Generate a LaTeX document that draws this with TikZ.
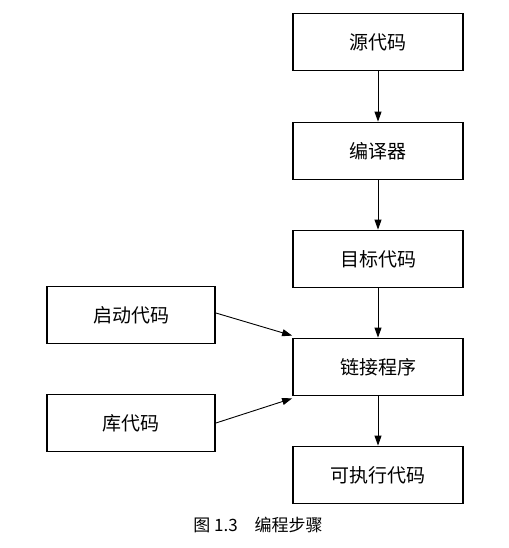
\documentclass[tikz,border=0pt]{standalone}
\usepackage{fontspec}
\newfontfamily\cjk{Noto Sans CJK SC}
\usetikzlibrary{arrows.meta}
\begin{document}
\begin{tikzpicture}[x=1pt,y=-1pt,
  box/.style={draw, line width=1.8pt, minimum width=170pt, minimum height=57pt, inner sep=0pt, font=\cjk\fontsize{19}{21}\selectfont},
  arr/.style={-{Triangle[length=10pt,width=7pt]}, line width=0.9pt}]
\useasboundingbox (0,0) rectangle (508,548);
\node[box] (src) at (378,42) {源代码};
\node[box] (cmp) at (378,151) {编译器};
\node[box] (obj) at (378,259) {目标代码};
\node[box] (lnk) at (378,367) {链接程序};
\node[box] (exe) at (378,475) {可执行代码};
\node[box, minimum width=168pt] (st) at (131,315) {启动代码};
\node[box, minimum width=168pt] (lib) at (131,423) {库代码};
\draw[arr] (src) -- (cmp);
\draw[arr] (cmp) -- (obj);
\draw[arr] (obj) -- (lnk);
\draw[arr] (lnk) -- (exe);
\coordinate (a1) at (lnk.north west);
\coordinate (a2) at (lnk.south west);
\draw[arr] (st.east) ++(0,-2) -- ([yshift=2pt]a1);
\draw[arr] (lib.east) -- ([yshift=-2pt]a2);
\node[font=\cjk\fontsize{17}{19}\selectfont] (cap) at (258,525) {图 1.3\quad 编程步骤};
\end{tikzpicture}
\end{document}
